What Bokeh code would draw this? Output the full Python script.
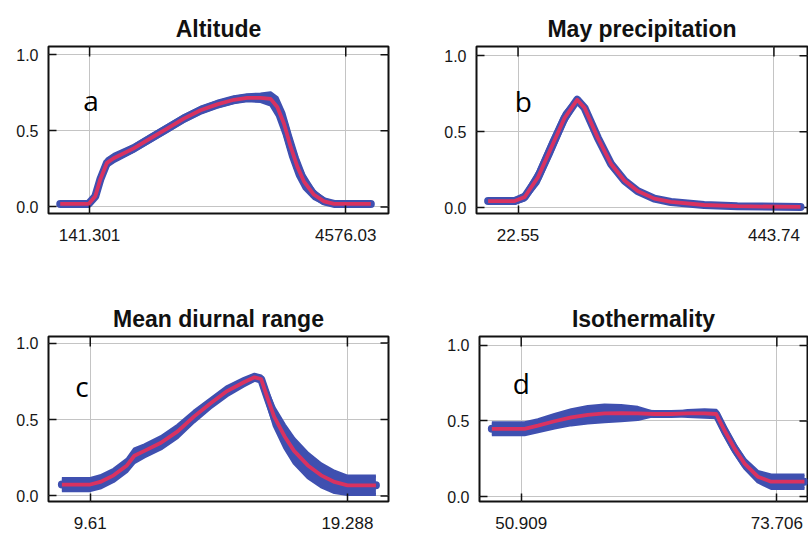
import math
from bokeh.plotting import figure
from bokeh.layouts import column, row
from bokeh.models import FixedTicker, Range1d, Label
from bokeh.embed import file_html
from bokeh.resources import INLINE

# ---------------- data ----------------
# (a) Altitude
alt_x = [-367, 124, 240, 326, 442, 558, 905, 1194, 1483, 1772, 2061, 2350, 2639,
         2870, 3102, 3275, 3391, 3506, 3622, 3738, 3853, 4027, 4200, 4374, 5010]
alt_mean = [0.02, 0.02, 0.07, 0.18, 0.29, 0.32, 0.385, 0.45, 0.515, 0.58, 0.635, 0.674,
            0.704, 0.717, 0.717, 0.71, 0.657, 0.548, 0.396, 0.265, 0.167, 0.08, 0.037,
            0.02, 0.02]
alt_sd = [0.012, 0.012, 0.015, 0.02, 0.025, 0.025, 0.02, 0.02, 0.02, 0.02, 0.02, 0.02,
          0.02, 0.02, 0.025, 0.04, 0.06, 0.07, 0.07, 0.06, 0.045, 0.025, 0.015, 0.01, 0.01]
alt_ticks = ["141.301", "4576.03"]

# (b) May precipitation
may_x = [-26.7, 17.1, 33.5, 55.4, 77.3, 99.1, 119.9, 132.0, 153.8, 175.7, 197.6,
         219.5, 246.9, 274.2, 328.9, 383.6, 487.5]
may_mean = [0.043, 0.043, 0.07, 0.2, 0.396, 0.59, 0.71, 0.657, 0.46, 0.287, 0.178,
            0.109, 0.059, 0.037, 0.017, 0.009, 0.004]
may_sd = [0.015, 0.015, 0.02, 0.04, 0.045, 0.035, 0.015, 0.015, 0.02, 0.02, 0.015,
          0.012, 0.01, 0.006, 0.0, 0.0, 0.0]
may_ticks = ["22.55", "443.74"]

# (c) Mean diurnal range
mdr_x = [8.542, 9.61, 9.987, 10.49, 10.99, 11.27, 11.65, 12.27, 12.9, 13.51, 14.13,
         14.76, 15.39, 15.79, 16.04, 16.27, 16.53, 16.92, 17.28, 17.8, 18.3, 18.8,
         19.29, 20.36]
mdr_mean = [0.075, 0.075, 0.092, 0.135, 0.2, 0.263, 0.295, 0.348, 0.423, 0.519, 0.605,
            0.686, 0.744, 0.776, 0.765, 0.647, 0.519, 0.391, 0.295, 0.2, 0.135, 0.092,
            0.07, 0.07]
mdr_sd = [0.04, 0.04, 0.04, 0.04, 0.04, 0.045, 0.04, 0.04, 0.04, 0.035, 0.03, 0.03,
          0.025, 0.02, 0.02, 0.04, 0.06, 0.075, 0.08, 0.08, 0.075, 0.07, 0.06, 0.06]
mdr_ticks = ["9.61", "19.288"]

# (d) Isothermality
iso_x = [48.29, 51.21, 52.4, 53.88, 55.37, 56.85, 58.34, 59.82, 61.31, 62.8, 64.28,
         65.77, 67.26, 68.3, 69.04, 69.94, 70.83, 72.01, 73.2, 76.17]
iso_mean = [0.448, 0.448, 0.469, 0.498, 0.524, 0.541, 0.55, 0.552, 0.55, 0.546, 0.546,
            0.55, 0.55, 0.546, 0.437, 0.317, 0.218, 0.131, 0.098, 0.098]
iso_sd = [0.04, 0.04, 0.04, 0.045, 0.05, 0.055, 0.055, 0.05, 0.04, 0.01, 0.0, 0.02,
          0.025, 0.025, 0.03, 0.03, 0.03, 0.035, 0.045, 0.045]
iso_ticks = ["50.909", "73.706"]

y_ticks = [0.0, 0.5, 1.0]
y_labels = ["0.0", "0.5", "1.0"]

BLUE = "#3f50b0"
RED = "#e2305c"
GRID = "#c4c4c4"
INK = "#111111"


def panel(title, xs, mean, sd, tick_labels, x_range, y_range, letter, letter_xy,
          w, h, bl, br, bt, bb):
    ticks = [float(t) for t in tick_labels]
    p = figure(width=w, height=h, output_backend="svg", toolbar_location=None,
               x_range=Range1d(*x_range), y_range=Range1d(*y_range),
               min_border_left=bl, min_border_right=br, min_border_top=bt,
               min_border_bottom=bb, background_fill_color="white",
               border_fill_color="white")
    p.title.text = title
    p.title.align = "center"
    p.title.text_font = "Liberation Sans"
    p.title.text_font_size = "23px"
    p.title.text_font_style = "bold"
    p.title.text_color = INK
    p.title.standoff = 9

    p.outline_line_color = INK
    p.outline_line_width = 2

    xt = FixedTicker(ticks=ticks)
    yt = FixedTicker(ticks=y_ticks)

    xa = p.xaxis[0]
    xa.ticker = xt
    xa.major_label_overrides = {t: s for t, s in zip(ticks, tick_labels)}
    xa.major_label_text_font = "Liberation Sans"
    xa.major_label_text_font_size = "17px"
    xa.major_label_standoff = 15
    ya = p.yaxis[0]
    ya.ticker = yt
    ya.major_label_overrides = {t: s for t, s in zip(y_ticks, y_labels)}
    ya.major_label_text_font = "Liberation Sans"
    ya.major_label_text_font_size = "16px"
    ya.major_label_standoff = 10
    for ax in (xa, ya):
        ax.major_label_text_color = "#161616"
        ax.axis_line_color = None
        ax.major_tick_in = 8
        ax.major_tick_out = 0
        ax.major_tick_line_color = INK
        ax.major_tick_line_width = 1.5
        ax.minor_tick_line_color = None

    p.xgrid.ticker = xt
    p.ygrid.ticker = yt
    for g in (p.xgrid[0], p.ygrid[0]):
        g.grid_line_color = GRID
        g.grid_line_width = 1

    # inward ticks on the right and top edges of the frame
    p.scatter(x=[x_range[1]] * len(y_ticks), y=y_ticks, marker="dash", size=16,
              line_color=INK, line_width=1.5)
    p.scatter(x=ticks, y=[y_range[1]] * len(ticks), marker="dash", size=20,
              angle=math.pi / 2, line_color=INK, line_width=1.5)

    lower = [m - s for m, s in zip(mean, sd)]
    upper = [m + s for m, s in zip(mean, sd)]
    p.varea(x=xs, y1=lower, y2=upper, fill_color=BLUE, fill_alpha=1.0)
    p.line(xs, upper, line_color=BLUE, line_width=3, line_join="round")
    p.line(xs, lower, line_color=BLUE, line_width=3, line_join="round")
    p.line(xs, mean, line_color=BLUE, line_width=8, line_join="round", line_cap="round")
    p.line(xs, mean, line_color=RED, line_width=3.8, line_join="round", line_alpha=0.95)

    p.add_layout(Label(x=letter_xy[0], y=letter_xy[1], text=letter,
                       text_font="Open Sans", text_font_size="28px",
                       text_color="#000000", text_baseline="alphabetic",
                       text_align="left"))
    return p


pa = panel("Altitude", alt_x, alt_mean, alt_sd, alt_ticks, (-570, 5316),
           (-0.043, 1.054), "a", (32, 0.70), 404, 275, 48, 16, 46, 61)
pb = panel("May precipitation", may_x, may_mean, may_sd, may_ticks, (-45.8, 499.0),
           (-0.039, 1.061), "b", (17.1, 0.70), 404, 275, 72, 1, 45, 62)
pc = panel("Mean diurnal range", mdr_x, mdr_mean, mdr_sd, mdr_ticks, (8.039, 20.834),
           (-0.036, 1.043), "c", (9.044, 0.72), 404, 261, 48, 16, 58, 35)
pd = panel("Isothermality", iso_x, iso_mean, iso_sd, iso_ticks, (47.19, 76.44),
           (-0.033, 1.059), "d", (50.166, 0.75), 404, 261, 75, 1, 61, 33)

layout = column(row(pa, pb), row(pc, pd))
open("out.html", "w").write(file_html(layout, INLINE))
